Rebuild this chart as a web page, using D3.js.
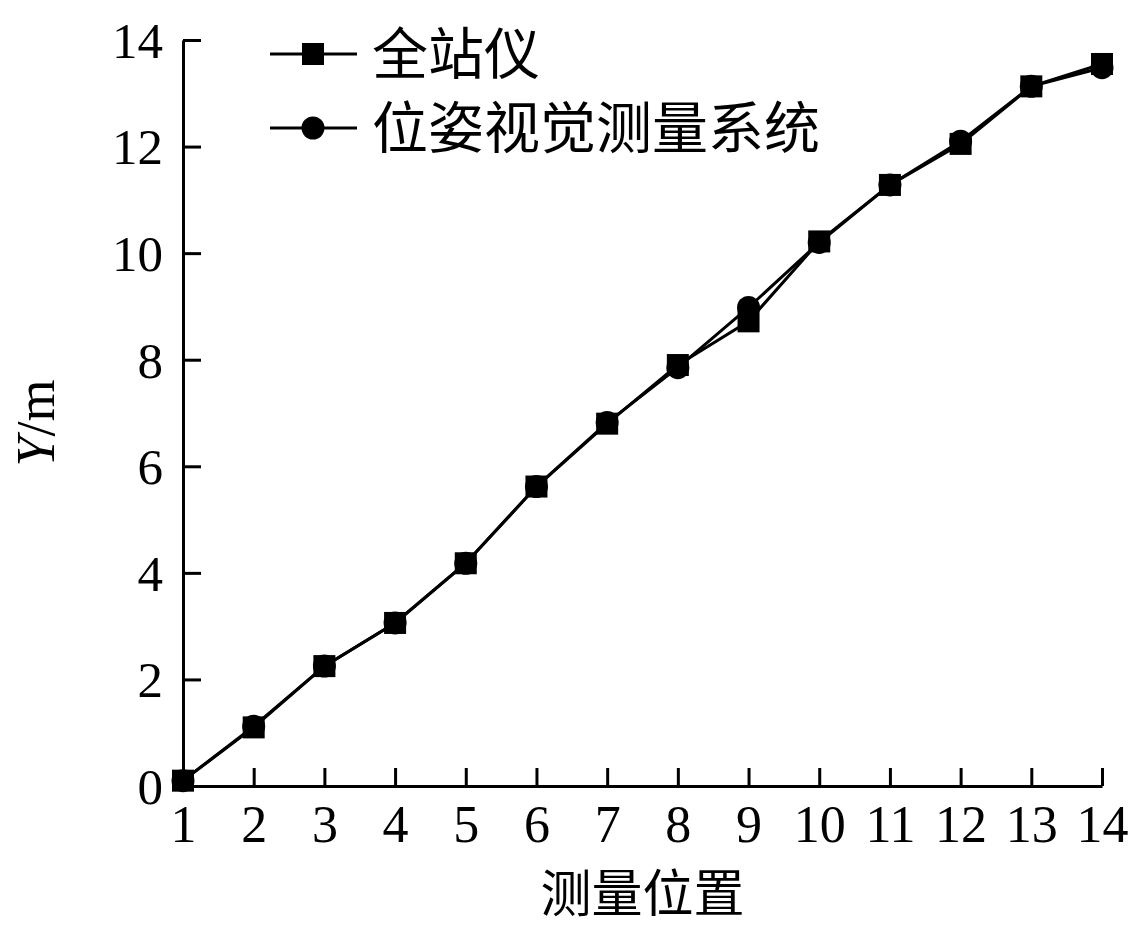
<!DOCTYPE html>
<html>
<head>
<meta charset="utf-8">
<script src="https://cdn.jsdelivr.net/npm/d3@7"></script>
<style>
  html, body { margin: 0; padding: 0; background: #fff; }
  svg { display: block; }
</style>
</head>
<body>
<svg id="chart" width="1141" height="926"></svg>
<script>
// ---- data ----
const positions = [1,2,3,4,5,6,7,8,9,10,11,12,13,14];
const totalStation = [0.1,1.1,2.25,3.06,4.18,5.62,6.8,7.9,8.72,10.22,11.28,12.05,13.13,13.55];
const visionSystem = [0.1,1.12,2.25,3.06,4.18,5.62,6.82,7.85,8.98,10.2,11.28,12.1,13.13,13.48];
const seriesNames = ["全站仪", "位姿视觉测量系统"];
const yTicks = [0,2,4,6,8,10,12,14];
const xTicks = positions;
const xTitle = "测量位置";

// ---- layout ----
const svg = d3.select("#chart");
const x = d3.scaleLinear().domain([1,14]).range([183,1102]);
const y = d3.scaleLinear().domain([0,14]).range([786,40]);
const serif = "'Liberation Serif','Times New Roman',serif";
const cjk = "'Noto Sans CJK SC','Noto Sans CJK JP',sans-serif";

// axes
const gy = svg.append("g").attr("transform", `translate(${x.range()[0]},0)`)
  .call(d3.axisLeft(y).tickValues(yTicks).tickSize(-18).tickSizeOuter(0).tickPadding(20));
const gx = svg.append("g").attr("transform", `translate(0,${y.range()[0]})`)
  .call(d3.axisBottom(x).tickValues(xTicks).tickSize(-18).tickSizeOuter(0).tickFormat(d3.format("d")));
[gy, gx].forEach(g => {
  g.select(".domain").attr("stroke", "#000").attr("stroke-width", 3);
  g.selectAll(".tick line").attr("stroke", "#000").attr("stroke-width", 3);
});
gy.selectAll(".tick text").attr("font-family", serif).attr("font-size", 51)
  .attr("fill", "#000").attr("dy", "0.34em");
gx.selectAll(".tick text").attr("font-family", serif).attr("font-size", 52)
  .attr("fill", "#000").attr("y", 56).attr("dy", null);

// axis titles
svg.append("text").attr("x", (x.range()[0] + x.range()[1]) / 2).attr("y", 912)
  .attr("text-anchor", "middle").attr("font-family", cjk).attr("font-size", 51)
  .attr("fill", "#000").text(xTitle);
const yt = svg.append("text")
  .attr("transform", `translate(54,${(y.range()[0] + y.range()[1]) / 2 + 10}) rotate(-90)`)
  .attr("text-anchor", "middle").attr("font-family", serif).attr("font-size", 54).attr("fill", "#000");
yt.append("tspan").attr("font-style", "italic").text("Y");
yt.append("tspan").text("/m");

// lines
const line = d3.line().x((d, i) => x(positions[i])).y(d => y(d));
svg.append("path").datum(totalStation).attr("d", line)
  .attr("fill", "none").attr("stroke", "#000").attr("stroke-width", 3);
svg.append("path").datum(visionSystem).attr("d", line)
  .attr("fill", "none").attr("stroke", "#000").attr("stroke-width", 3);

// markers
const sq = 22;
svg.append("g").selectAll("rect").data(totalStation).join("rect")
  .attr("x", (d, i) => x(positions[i]) - sq / 2).attr("y", d => y(d) - sq / 2)
  .attr("width", sq).attr("height", sq).attr("fill", "#000");
svg.append("g").selectAll("circle").data(visionSystem).join("circle")
  .attr("cx", (d, i) => x(positions[i])).attr("cy", d => y(d)).attr("r", 11.5).attr("fill", "#000");

// legend
const legendY = [54, 128];
const lg = svg.append("g");
legendY.forEach((ly, k) => {
  lg.append("line").attr("x1", 270).attr("x2", 357).attr("y1", ly).attr("y2", ly)
    .attr("stroke", "#000").attr("stroke-width", 3);
  if (k === 0) {
    lg.append("rect").attr("x", 313 - sq / 2).attr("y", ly - sq / 2).attr("width", sq).attr("height", sq).attr("fill", "#000");
  } else {
    lg.append("circle").attr("cx", 313).attr("cy", ly).attr("r", 11.5).attr("fill", "#000");
  }
  lg.append("text").attr("x", 372).attr("y", ly).attr("dy", "0.36em")
    .attr("font-family", cjk).attr("font-size", 56).attr("fill", "#000").text(seriesNames[k]);
});
</script>
</body>
</html>
